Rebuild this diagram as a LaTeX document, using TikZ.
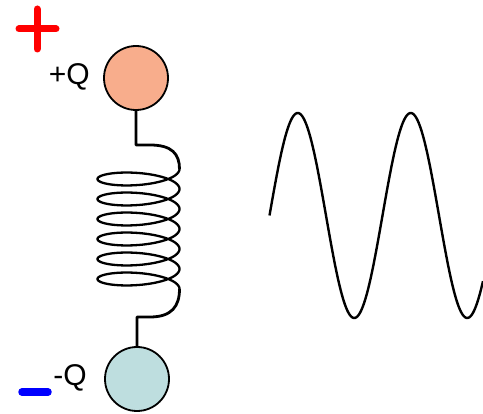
\documentclass[tikz,border=0pt]{standalone}
\usepackage{fontspec}
\setmainfont{Liberation Sans}
\definecolor{chargepos}{RGB}{248,173,140}
\definecolor{chargeneg}{RGB}{190,222,223}
\definecolor{signred}{RGB}{255,0,0}
\definecolor{signblue}{RGB}{0,0,255}
\begin{document}
\begin{tikzpicture}[x=1pt,y=-1pt,
  ball/.style={circle, draw=black, line width=1.8pt, minimum size=64pt, inner sep=0pt},
  wire/.style={line width=2.8pt, line join=round},
  coil/.style={line width=2.3pt},
  wave/.style={line width=2.4pt},
  lbl/.style={font=\fontsize{30}{34}\selectfont, inner sep=0pt},
  sign/.style={line width=7pt, line cap=round}]
\useasboundingbox (0,0) rectangle (483,414);

% the two charged spheres
\node[ball, fill=chargepos] (qp) at (136,78) {};
\node[ball, fill=chargeneg] (qn) at (137,379) {};

% charge labels
\node[lbl, anchor=east] (lp) at (90,77) {+Q};
\node[lbl, anchor=east] (ln) at (87,378) {-Q};

% polarity signs
\draw[sign, signred] (19,29) -- (56,29);
\draw[sign, signred] (37,9) -- (37,49);
\draw[sign, signblue, line width=7.5pt] (22,392) -- (48,392);

% ends of the helix
\coordinate (hTop) at (179.5,169);
\coordinate (hBot) at (179.5,289);

% leads from the spheres to the coil
\draw[wire] (qp.south) -- (136,145) -- (150,145)
  .. controls (172,145) and (179.5,154) .. (hTop);
\draw[wire] (hBot) .. controls (179.5,306) and (172,317) .. (150,317)
  -- (137,317) -- (qn.north);

% the spring coil: six turns, 20pt pitch
\draw[coil] plot[domain=0:2160, samples=433, smooth]
  ({138.5+41*cos(\x)}, {169+\x/18+11*sin(\x)});

% oscillation: period 113pt, amplitude 102.5pt
\draw[wave] plot[domain=0:213.5, samples=220, smooth]
  ({269.5+\x}, {215.5-102.5*sin(3.18584*\x)});
\end{tikzpicture}
\end{document}
